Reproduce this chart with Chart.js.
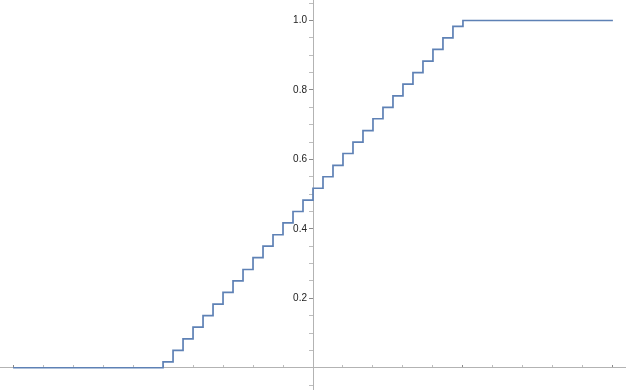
<!DOCTYPE html>
<html>
<head>
<meta charset="utf-8">
<script src="https://cdn.jsdelivr.net/npm/chart.js@4/dist/chart.umd.min.js"></script>
<style>
  html, body { margin: 0; padding: 0; background: #fff; }
  #wrap { width: 626px; height: 390px; }
</style>
</head>
<body>
<div id="wrap"><canvas id="cdfChart"></canvas></div>
<script>
// ── Data ──────────────────────────────────────
const xValues = [
  -30,
  -15, -14, -13, -12, -11, -10, -9, -8, -7, -6, -5, -4, -3, -2, -1,
  0, 1, 2, 3, 4, 5, 6, 7, 8, 9, 10, 11, 12, 13, 14, 15,
  30
];
const cdfValues = [
  0,
  0.017, 0.050, 0.083, 0.117, 0.150, 0.183, 0.217, 0.250, 0.283, 0.317,
  0.350, 0.383, 0.417, 0.450, 0.483,
  0.517, 0.550, 0.583, 0.617, 0.650, 0.683, 0.717, 0.750, 0.783, 0.817,
  0.850, 0.883, 0.917, 0.950, 0.983, 1.000,
  1.000
];
const xTicks = [-30, -27, -24, -21, -18, -15, -12, -9, -6, -3,
                3, 6, 9, 12, 15, 18, 21, 24, 27, 30];
const xMajor = [-30, -15, 15, 30];
const yTicks = [-0.05, 0.05, 0.1, 0.15, 0.2, 0.25, 0.3, 0.35, 0.4, 0.45,
                0.5, 0.55, 0.6, 0.65, 0.7, 0.75, 0.8, 0.85, 0.9, 0.95,
                1.0, 1.05];
const yLabels = ['0.2', '0.4', '0.6', '0.8', '1.0'];

// ── Style ─────────────────────────────────────
const LINE_COLOR  = '#5e81b5';
const AXIS_COLOR  = '#b3b3b3';
const MAJOR_TICK  = '#8a8a8a';
const MINOR_TICK  = '#bdbdbd';

const points = xValues.map((x, i) => ({ x, y: cdfValues[i] }));

const isMajorY = v => yLabels.includes(v.toFixed(1)) &&
  Math.abs(v * 5 - Math.round(v * 5)) < 1e-6;

// centred axes should not shrink the plot area
const noPadding = s => {
  s.paddingTop = 0; s.paddingBottom = 0;
  s.paddingLeft = 0; s.paddingRight = 0;
};

new Chart(document.getElementById('cdfChart').getContext('2d'), {
  type: 'line',
  data: {
    datasets: [{
      data:        points,
      stepped:     true,
      borderColor: LINE_COLOR,
      borderWidth: 1.7,
      pointRadius: 0,
      fill:        false,
    }]
  },
  options: {
    responsive:          true,
    maintainAspectRatio: false,
    animation:           false,
    layout:  { padding: 0 },
    plugins: {
      legend:  { display: false },
      tooltip: { enabled: false }
    },
    scales: {
      x: {
        type:     'linear',
        min:      -31.31,
        max:      31.31,
        position: { y: 0 },
        afterBuildTicks: s => { s.ticks = xTicks.map(v => ({ value: v })); },
        afterFit: noPadding,
        border: { color: AXIS_COLOR, width: 1 },
        grid: {
          drawOnChartArea: false,
          drawTicks:       true,
          tickLength:      -3,
          tickColor: ctx =>
            ctx.tick && xMajor.includes(ctx.tick.value) ? MAJOR_TICK : MINOR_TICK
        },
        ticks: { display: false }
      },
      y: {
        type:     'linear',
        min:      -0.064,
        max:      1.059,
        position: 'center',   // x range is symmetric, so centre = x 0
        afterBuildTicks: s => { s.ticks = yTicks.map(v => ({ value: v })); },
        afterFit: noPadding,
        border: { color: AXIS_COLOR, width: 1 },
        grid: {
          drawOnChartArea: false,
          drawTicks:       true,
          tickLength:      4,
          tickColor: ctx =>
            ctx.tick && isMajorY(ctx.tick.value) ? MAJOR_TICK : MINOR_TICK
        },
        ticks: {
          padding:  2,
          color:    '#222',
          font:     { family: 'Liberation Sans, Arial, sans-serif', size: 10 },
          autoSkip: false,
          callback: v => isMajorY(v) ? v.toFixed(1) : ''
        }
      }
    }
  }
});
</script>
</body>
</html>
